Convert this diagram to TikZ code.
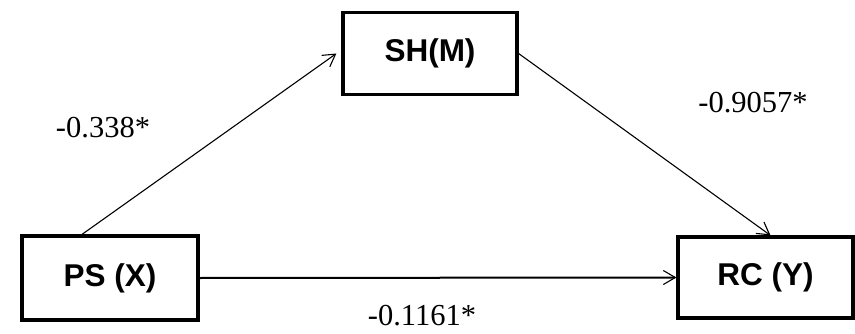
\documentclass[tikz,border=0pt]{standalone}
\usepackage{fontspec}
\setmainfont{Liberation Serif}
\setsansfont{Liberation Sans}
\usetikzlibrary{arrows.meta,calc}
\begin{document}
\begin{tikzpicture}[x=1pt,y=1pt,
  var/.style={draw, line width=3.2pt, rectangle, inner sep=0pt,
    font=\sffamily\bfseries\fontsize{31.5}{36}\selectfont},
  path/.style={line width=1.1pt, -{Straight Barb[length=12pt,width=14pt,line width=1.1pt]}},
  coef/.style={font=\fontsize{30.5}{34}\selectfont, inner sep=0pt}]
\useasboundingbox (0,0) rectangle (855,333);
\node[var, minimum width=176pt, minimum height=84pt] (ps) at (110,55) {PS (X)};
\node[var, minimum width=174pt, minimum height=82pt] (sh) at (430,279.5) {SH(M)};
\node[var, minimum width=175pt, minimum height=81pt] (rc) at (765.5,55.5) {RC (Y)};
\draw[path] ($(ps.north)+(-28,0)$) -- ($(sh.west)+(-5,0)$);
\draw[path] (sh.east) -- ($(rc.north)+(5,0)$);
\draw[path, line width=2pt] (ps.east) -- (rc.west);
\node[coef] (a) at (103,205) {-0.338*};
\node[coef] (b) at (753,230) {-0.9057*};
\node[coef, anchor=base] (c) at (422,8) {-0.1161*};
\end{tikzpicture}
\end{document}
